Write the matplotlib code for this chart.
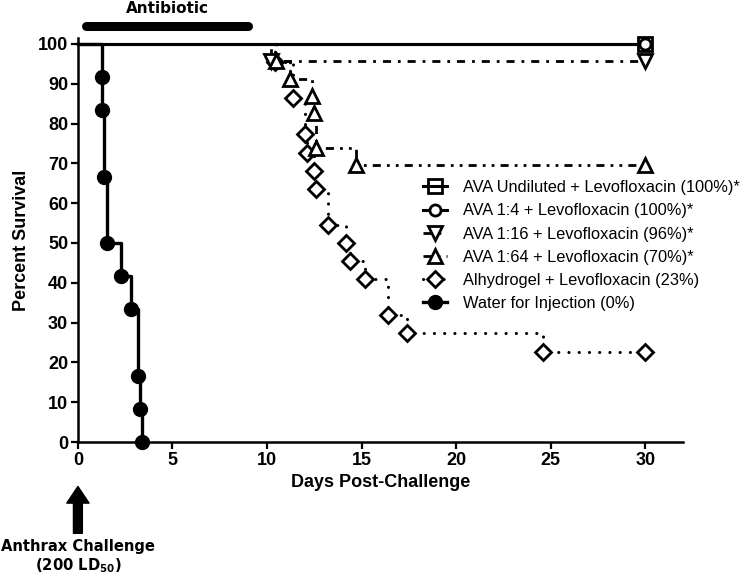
import matplotlib
matplotlib.use("Agg")
import matplotlib.pyplot as plt

plt.rcParams['font.family'] = ['Liberation Sans', 'DejaVu Sans']

# survival data (days, percent surviving)
und_x = [0, 30]
und_y = [100, 100]

ava4_x = [0, 30]
ava4_y = [100, 100]

ava16_x = [0, 10.2, 30]
ava16_y = [100, 95.7, 95.7]

ava64_x = [0, 10.5, 11.2, 12.4, 12.5, 12.6, 14.7, 30]
ava64_y = [100, 95.7, 91.3, 87.0, 82.6, 73.9, 69.6, 69.6]

alhy_x = [0, 10.4, 11.4, 12.0, 12.1, 12.5, 12.6, 13.2, 14.2, 14.4, 15.2, 16.4, 17.4, 24.6, 30]
alhy_y = [100, 95.5, 86.4, 77.3, 72.7, 68.2, 63.6, 54.5, 50.0, 45.5, 40.9, 31.8, 27.3, 22.7, 22.7]

water_x = [0, 1.27, 1.27, 1.37, 1.52, 2.3, 2.8, 3.2, 3.3, 3.4]
water_y = [100, 91.7, 83.3, 66.7, 50.0, 41.7, 33.3, 16.7, 8.3, 0]

labels = ["AVA Undiluted + Levofloxacin (100%)*",
          "AVA 1:4 + Levofloxacin (100%)*",
          "AVA 1:16 + Levofloxacin (96%)*",
          "AVA 1:64 + Levofloxacin (70%)*",
          "Alhydrogel + Levofloxacin (23%)",
          "Water for Injection (0%)"]

antibiotic_days = [0.45, 9.0]

fig = plt.figure(figsize=(7.42, 5.75), dpi=100)
ax = fig.add_axes([0.105, 0.2313, 0.8155, 0.7026])

lw = 2.0
dashdot = (0, (2.9, 2.5, 1.0, 2.5))
dashdotdot = (0, (2.9, 2.2, 1.0, 2.2, 1.0, 2.2))
dotted = (0, (0.05, 3.3))

ax.plot(und_x, und_y, color='k', lw=2.2, drawstyle='steps-post',
        marker='s', ms=10, mfc='none', mec='k', mew=2, markevery=[1],
        clip_on=False, label=labels[0], zorder=5)
ax.plot(ava4_x, ava4_y, color='k', lw=2.2, drawstyle='steps-post',
        marker='o', ms=8, mfc='white', mec='k', mew=2, markevery=[1],
        clip_on=False, label=labels[1], zorder=6)
ax.plot(ava16_x, ava16_y, color='k', lw=lw, ls=dashdot, drawstyle='steps-post',
        marker='v', ms=10, mfc='white', mec='k', mew=2, markevery=[1, 2],
        clip_on=False, label=labels[2], zorder=4)
ax.plot(ava64_x, ava64_y, color='k', lw=lw, ls=dashdotdot, drawstyle='steps-post',
        marker='^', ms=10, mfc='white', mec='k', mew=2,
        markevery=list(range(1, len(ava64_x))),
        clip_on=False, label=labels[3], zorder=4)
ax.plot(alhy_x, alhy_y, color='k', lw=2.2, ls=dotted, dash_capstyle='round',
        drawstyle='steps-post',
        marker='D', ms=8, mfc='white', mec='k', mew=2,
        markevery=list(range(1, len(alhy_x))),
        clip_on=False, label=labels[4], zorder=3)
ax.plot(water_x, water_y, color='k', lw=2.4, drawstyle='steps-post',
        marker='o', ms=10, mfc='k', mec='k',
        markevery=list(range(1, len(water_x))),
        clip_on=False, label=labels[5], zorder=7)

ax.set_xlim(0, 32)
ax.set_ylim(0, 101.5)
ax.set_xticks([0, 5, 10, 15, 20, 25, 30])
ax.set_yticks(range(0, 101, 10))
for s in ['top', 'right']:
    ax.spines[s].set_visible(False)
for s in ['left', 'bottom']:
    ax.spines[s].set_linewidth(1.8)
ax.tick_params(width=1.6, length=5, labelsize=13, pad=2)
for t in ax.get_xticklabels() + ax.get_yticklabels():
    t.set_fontweight('bold')

ax.set_xlabel("Days Post-Challenge", fontsize=13, fontweight='bold', labelpad=4)
ax.set_ylabel("Percent Survival", fontsize=13, fontweight='bold', labelpad=6)

leg = ax.legend(loc='upper left', bbox_to_anchor=(0.57, 0.648), frameon=False,
                fontsize=11.8, handlelength=1.46, handletextpad=1.0,
                labelspacing=0.5, numpoints=1, borderaxespad=0, borderpad=0)

# antibiotic bar
ax.plot(antibiotic_days, [104.5, 104.5], color='k', lw=6.5,
        solid_capstyle='round', clip_on=False)
ax.text(4.75, 109, "Antibiotic", ha='center', va='center',
        fontsize=11, fontweight='bold', family='DejaVu Sans')

# challenge arrow
ax.annotate('', xy=(0, -0.11), xytext=(0, -0.226),
            xycoords=('data', 'axes fraction'), textcoords=('data', 'axes fraction'),
            arrowprops=dict(arrowstyle='simple,head_width=0.8,head_length=0.6,tail_width=0.32',
                            color='k', mutation_scale=20, shrinkA=0, shrinkB=0),
            annotation_clip=False)
ax.text(0, -0.258, "Anthrax Challenge", transform=ax.get_xaxis_transform(),
        ha='center', va='center', fontsize=10.6, fontweight='bold', family='DejaVu Sans')
ax.text(0, -0.305, r"(200 LD$_{\mathbf{50}}$)", transform=ax.get_xaxis_transform(),
        ha='center', va='center', fontsize=10.6, fontweight='bold', family='DejaVu Sans')

fig.savefig("out.png", dpi=100)
